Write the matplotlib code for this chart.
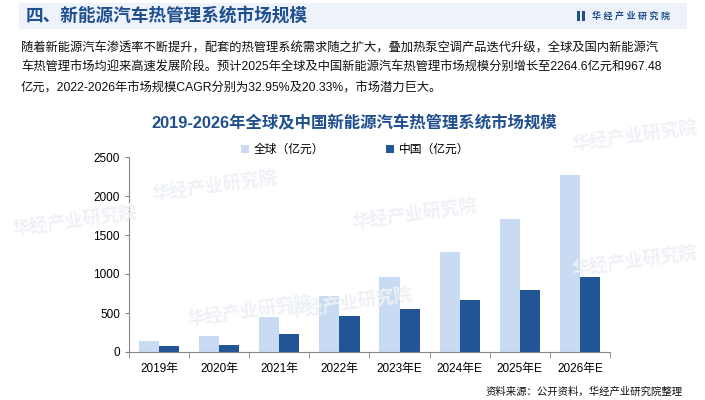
import numpy as np
import matplotlib.pyplot as plt
from matplotlib.patches import Rectangle

plt.rcParams['font.family'] = ['Liberation Sans', 'Noto Sans CJK SC', 'DejaVu Sans']

years = ['2019年', '2020年', '2021年', '2022年', '2023年E', '2024年E', '2025年E', '2026年E']
global_vals = [141, 205, 449, 718, 961, 1282, 1705, 2265]
china_vals = [77, 94, 231, 462, 551, 667, 795, 967]

header = '四、新能源汽车热管理系统市场规模'
intro = ['随着新能源汽车渗透率不断提升，配套的热管理系统需求随之扩大，叠加热泵空调产品迭代升级，全球及国内新能源汽',
         '车热管理市场均迎来高速发展阶段。预计2025年全球及中国新能源汽车热管理市场规模分别增长至2264.6亿元和967.48',
         '亿元，2022-2026年市场规模CAGR分别为32.95%及20.33%，市场潜力巨大。']
chart_title = '2019-2026年全球及中国新能源汽车热管理系统市场规模'
source = '资料来源：公开资料，华经产业研究院整理'

c_light = '#c9dbf2'
c_dark = '#215596'
c_title = '#1f4f8f'

fig = plt.figure(figsize=(7.05, 4.0), dpi=100)
W, H = 705, 400

def fx(px):
    return px / W

def fy(py):
    return 1 - py / H

# header band
fig.patches.append(Rectangle((fx(19), fy(29)), fx(668), 26 / H, transform=fig.transFigure,
                             facecolor='#eef3fb', edgecolor='none', zorder=0))
fig.text(fx(26), fy(16), header, fontsize=12.7, fontweight='bold', color=c_title, va='center')
fig.patches.append(Rectangle((fx(577), fy(21)), fx(3), 10 / H, transform=fig.transFigure,
                             facecolor=c_title, edgecolor='none'))
fig.patches.append(Rectangle((fx(582), fy(21)), fx(3), 10 / H, transform=fig.transFigure,
                             facecolor=c_title, edgecolor='none'))
fig.text(fx(592), fy(16), '华 经 产 业 研 究 院', fontsize=6.5, fontweight='bold', color=c_title, va='center')

# intro text
for i, line in enumerate(intro):
    fig.text(fx(21), fy(48 + i * 20), line, fontsize=8.85, color='#111111', va='center')

fig.text(fx(354), fy(123), chart_title, fontsize=11.8, fontweight='bold', color=c_title,
         ha='center', va='center')

# faint watermarks
for (x, y) in [(215, 187), (250, 312), (415, 215), (350, 304), (635, 262), (75, 222), (635, 137)]:
    fig.text(fx(x), fy(y), '华经产业研究院', fontsize=13, fontweight='bold', color='#eef1f5',
             rotation=8, ha='center', va='center', zorder=0)

ax = fig.add_axes([fx(129), fy(352), fx(610 - 129), (352 - 157) / H])
ax.patch.set_alpha(0)
x = np.arange(len(years))
w = 0.335
ax.bar(x - w / 2, global_vals, w, color=c_light, label='全球（亿元）')
ax.bar(x + w / 2, china_vals, w, color=c_dark, label='中国（亿元）')

ax.set_xlim(-0.5, len(years) - 0.5)
ax.set_ylim(0, 2500)
ax.set_yticks(np.arange(0, 2501, 500))
ax.set_xticks(x)
ax.set_xticklabels(years, fontsize=8.5)
ax.set_xticks(np.arange(-0.5, len(years), 1), minor=True)
ax.tick_params(axis='x', which='major', length=0, pad=8)
ax.tick_params(axis='x', which='minor', length=4, color='#888888')
ax.tick_params(axis='y', length=3, color='#888888', labelsize=8.5)
for s in ['top', 'right']:
    ax.spines[s].set_visible(False)
for s in ['left', 'bottom']:
    ax.spines[s].set_color('#888888')

ax.legend(loc='upper center', bbox_to_anchor=(0.47, 1.12), ncol=2, frameon=False,
          fontsize=8.5, handlelength=0.7, handleheight=0.7, columnspacing=5.2, handletextpad=0.4)

fig.text(fx(683), fy(392), source, fontsize=7.5, color='#111111', ha='right', va='center')

fig.savefig('out.png', dpi=100)
